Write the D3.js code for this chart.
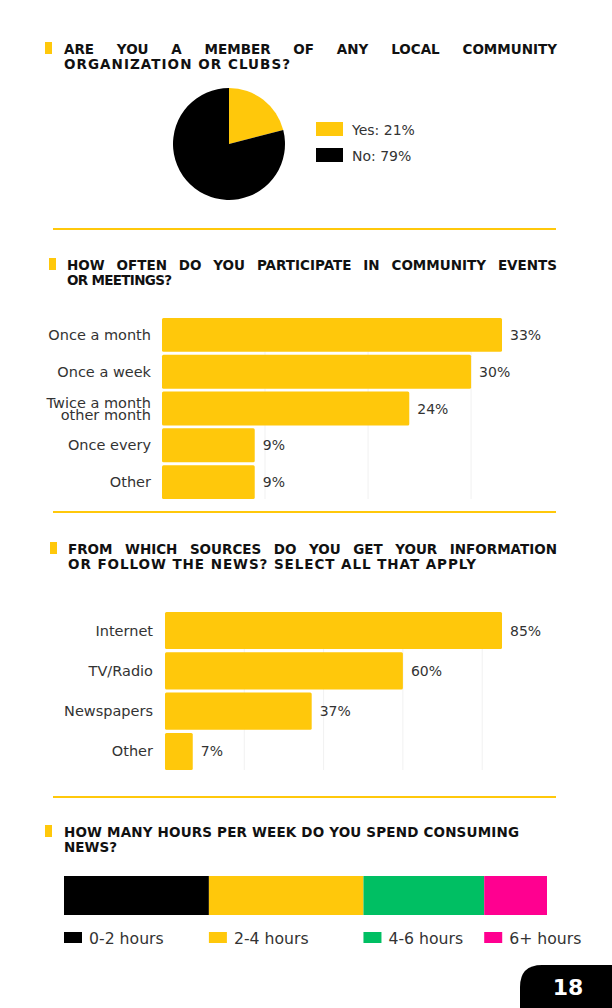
<!DOCTYPE html>
<html lang="en">
<head>
<meta charset="UTF-8" />
<title>Survey page 18</title>
<script src="https://d3js.org/d3.v7.js"></script>
<style>
  body { margin: 0; background: #fff; }
  svg { display: block; }
  text { font-family: "DejaVu Sans", sans-serif; }
</style>
</head>
<body>
<script>
    // data
    var pieLabels = ["Yes", "No"];
    var pieValues = [21, 79];
    var pieColors = ["#FFC80B", "#000000"];

    var freqCats = ["Once a month", "Once a week", "Twice a month\nother month", "Once every", "Other"];
    var freqValues = [33, 30, 24, 9, 9];
    var freqTicks = [10, 20, 30];

    var sourceCats = ["Internet", "TV/Radio", "Newspapers", "Other"];
    var sourceValues = [85, 60, 37, 7];
    var sourceTicks = [20, 40, 60, 80];

    var hourCats = ["0-2 hours", "2-4 hours", "4-6 hours", "6+ hours"];
    var hourValues = [30, 32, 25, 13];
    var hourColors = ["#000000", "#FFC80B", "#00BF63", "#FF0090"];

    var titles = [
        ["ARE YOU A MEMBER OF ANY LOCAL COMMUNITY", "ORGANIZATION OR CLUBS?"],
        ["HOW OFTEN DO YOU PARTICIPATE IN COMMUNITY EVENTS", "OR MEETINGS?"],
        ["FROM WHICH SOURCES DO YOU GET YOUR INFORMATION", "OR FOLLOW THE NEWS? SELECT ALL THAT APPLY"],
        ["HOW MANY HOURS PER WEEK DO YOU SPEND CONSUMING", "NEWS?"]
    ];

    var yellow = "#FFC80B";
    var textColor = "#333";
    var w = 612, h = 1008;

    var svg = d3.select("body").append("svg")
        .attr("width", w)
        .attr("height", h);

    // section headings: marker + bold caps
    // ends = right edge of each line (null = natural width, "j" = word-justified)
    var headPos = [
        {mx: 45, x: 64, y: 54, ends: ["j", 290]},
        {mx: 49, x: 67, y: 270, ends: ["j", 172]},
        {mx: 50, x: 68, y: 554, ends: ["j", 476]},
        {mx: 45, x: 64, y: 837, ends: [519, null]}
    ];
    var rightEdge = 557;

    function titleText(sel, y) {
        return sel.append("text")
            .attr("y", y)
            .attr("font-size", 13.5)
            .attr("font-weight", "bold")
            .attr("fill", "#111");
    }

    titles.forEach(function(lines, i){
        var p = headPos[i];
        svg.append("rect")
            .attr("x", p.mx).attr("y", p.y - 12)
            .attr("width", 7).attr("height", 12)
            .attr("fill", yellow);

        lines.forEach(function(line, j){
            var y = p.y + j * 15;
            var end = p.ends[j];
            if (end == "j") {
                var words = line.split(" ");
                var g = svg.append("g");
                var nodes = words.map(function(wd){
                    return titleText(g, y).text(wd);
                });
                var widths = nodes.map(function(n){ return n.node().getComputedTextLength(); });
                var gap = (rightEdge - p.x - d3.sum(widths)) / (words.length - 1);
                var cx = p.x;
                nodes.forEach(function(n, k){
                    n.attr("x", cx);
                    cx += widths[k] + gap;
                });
            } else {
                var t = titleText(svg, y).attr("x", p.x).text(line);
                if (end) {
                    t.attr("textLength", end - p.x).attr("lengthAdjust", "spacing");
                }
            }
        });
    });

    // separators
    [229, 512, 797].forEach(function(y){
        svg.append("line")
            .attr("x1", 53).attr("x2", 556)
            .attr("y1", y).attr("y2", y)
            .attr("stroke", yellow)
            .attr("stroke-width", 2);
    });

    // ---- pie ----
    var pie = d3.pie().sort(null);
    var arc = d3.arc().innerRadius(0).outerRadius(56);
    svg.append("g")
        .attr("transform", "translate(229,144)")
        .selectAll("path")
        .data(pie(pieValues))
        .enter()
        .append("path")
        .attr("d", arc)
        .attr("fill", function(d, i){ return pieColors[i]; });

    var pieLeg = svg.append("g").attr("transform", "translate(316,122)");
    pieLabels.forEach(function(lab, i){
        pieLeg.append("rect")
            .attr("x", 0).attr("y", i * 26)
            .attr("width", 27).attr("height", 14)
            .attr("fill", pieColors[i]);
        pieLeg.append("text")
            .attr("x", 36).attr("y", i * 26 + 13)
            .attr("font-size", 14)
            .attr("fill", textColor)
            .text(lab + ": " + pieValues[i] + "%");
    });

    // ---- horizontal bars ----
    function hbar(cats, vals, ticks, xScale, yScale, labelX) {
        var g = svg.append("g");
        g.selectAll("line.grid")
            .data(ticks)
            .enter()
            .append("line")
            .attr("x1", function(d){ return xScale(d); })
            .attr("x2", function(d){ return xScale(d); })
            .attr("y1", yScale.range()[0])
            .attr("y2", yScale.range()[1])
            .attr("stroke", "#f1f1f1")
            .attr("stroke-width", 1);

        g.selectAll("rect")
            .data(vals)
            .enter()
            .append("rect")
            .attr("x", xScale(0))
            .attr("y", function(d, i){ return yScale(cats[i]); })
            .attr("width", function(d){ return xScale(d) - xScale(0); })
            .attr("height", yScale.bandwidth())
            .attr("rx", 1.5)
            .attr("fill", yellow);

        g.selectAll("text.val")
            .data(vals)
            .enter()
            .append("text")
            .attr("x", function(d){ return xScale(d) + 8; })
            .attr("y", function(d, i){ return yScale(cats[i]) + yScale.bandwidth() / 2 + 5; })
            .attr("font-size", 14)
            .attr("fill", textColor)
            .text(function(d){ return d + "%"; });

        cats.forEach(function(c){
            var parts = c.split("\n");
            var t = g.append("text")
                .attr("text-anchor", "end")
                .attr("font-size", 14.5)
                .attr("fill", textColor);
            var y0 = yScale(c) + yScale.bandwidth() / 2 + 5 - (parts.length - 1) * 6;
            parts.forEach(function(p, k){
                t.append("tspan")
                    .attr("x", labelX)
                    .attr("y", y0 + k * 12)
                    .text(p);
            });
        });
    }

    var x2 = d3.scaleLinear().domain([0, 33]).range([162, 502]);
    var y2 = d3.scaleBand().domain(freqCats).range([318, 499]).paddingInner(0.08);
    hbar(freqCats, freqValues, freqTicks, x2, y2, 151);

    var x3 = d3.scaleLinear().domain([0, 85]).range([165, 502]);
    var y3 = d3.scaleBand().domain(sourceCats).range([612, 770]).paddingInner(0.08);
    hbar(sourceCats, sourceValues, sourceTicks, x3, y3, 153);

    // ---- stacked hours bar ----
    var xs = d3.scaleLinear().domain([0, d3.sum(hourValues)]).range([64, 547]);
    var row = {};
    hourCats.forEach(function(c, i){ row[c] = hourValues[i]; });
    var stacked = d3.stack().keys(hourCats)([row]);

    svg.append("g")
        .selectAll("rect")
        .data(stacked)
        .enter()
        .append("rect")
        .attr("x", function(d){ return xs(d[0][0]); })
        .attr("y", 876)
        .attr("width", function(d){ return xs(d[0][1]) - xs(d[0][0]); })
        .attr("height", 39)
        .attr("fill", function(d, i){ return hourColors[i]; });

    var hl = svg.append("g")
        .selectAll("g")
        .data(stacked)
        .enter()
        .append("g")
        .attr("transform", function(d){ return "translate(" + xs(d[0][0]) + ",932)"; });
    hl.append("rect")
        .attr("width", 18).attr("height", 11)
        .attr("fill", function(d, i){ return hourColors[i]; });
    hl.append("text")
        .attr("x", 25).attr("y", 11.5)
        .attr("font-size", 15.7)
        .attr("fill", textColor)
        .text(function(d){ return d.key; });

    // page tab
    svg.append("path")
        .attr("d", "M520,1008 V987 Q520,965 542,965 H612 V1008 Z")
        .attr("fill", "#000");
    svg.append("text")
        .attr("x", 568).attr("y", 995)
        .attr("text-anchor", "middle")
        .attr("font-size", 22)
        .attr("font-weight", "bold")
        .attr("fill", "#fff")
        .text("18");
</script>
</body>
</html>
